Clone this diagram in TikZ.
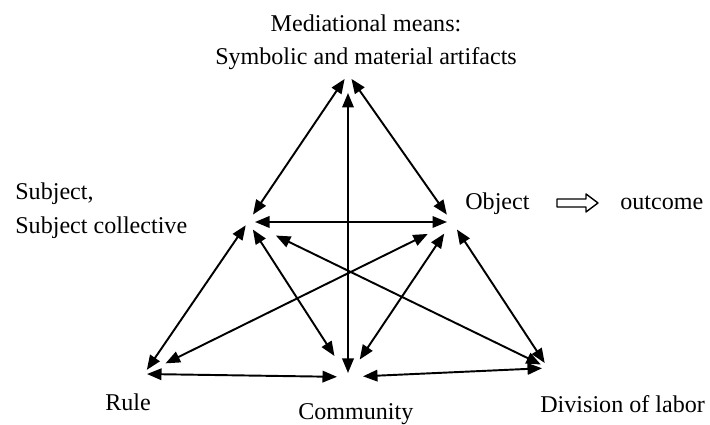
\documentclass[tikz,border=0pt]{standalone}
\usepackage{fontspec}
\setmainfont{Liberation Serif}
\usetikzlibrary{arrows.meta}

\tikzset{
  link/.style={<->, line width=1.1pt},
  lbl/.style={inner sep=0pt, anchor=base west, font=\fontsize{13.7}{16}\selectfont}
}

\begin{document}
\begin{tikzpicture}[line cap=round, line join=round, >={Triangle[length=0.29cm, width=0.23cm]}]
\useasboundingbox (0,0) rectangle (14.2,8.5);

\coordinate (M) at (6.96,7.02);
\coordinate (S) at (4.96,4.06);
\coordinate (O) at (9.04,4.06);
\coordinate (R) at (2.88,1.02);
\coordinate (C) at (6.96,0.96);
\coordinate (D) at (10.96,1.14);

% outer triangle
\draw[link, shorten <=0.12cm, shorten >=0.18cm] (M) -- (S);
\draw[link, shorten <=0.12cm, shorten >=0.18cm] (M) -- (O);
\draw[link, shorten <=0.10cm, shorten >=0.08cm] (R) -- (S);
\draw[link, shorten <=0.18cm, shorten >=0.12cm] (O) -- (D);
\draw[link, shorten <=0.06cm, shorten >=0.22cm] (R) -- (C);
\draw[link, shorten <=0.30cm, shorten >=0.12cm] (C) -- (D);

% inner links
\draw[link, shorten <=0.14cm, shorten >=0.10cm] (S) -- (O);
\draw[link, shorten <=0.08cm, shorten >=0.38cm] (C) -- (M);
\draw[link, shorten <=0.18cm, shorten >=0.50cm] (S) -- (C);
\draw[link, shorten <=0.28cm, shorten >=0.42cm] (O) -- (C);
\draw[link, shorten <=0.62cm, shorten >=0.16cm] (S) -- (D);
\draw[link, shorten <=0.54cm, shorten >=0.48cm] (O) -- (R);

% labels
\node[lbl, anchor=base] (means) at (7.32,7.86) {Mediational means:};
\node[lbl, anchor=base] (artifacts) at (7.32,7.20) {Symbolic and material artifacts};
\node[lbl] (subject) at (0.30,4.50) {Subject,};
\node[lbl] (collective) at (0.30,3.82) {Subject collective};
\node[lbl] (object) at (9.30,4.30) {Object};
\node[lbl] (outcome) at (12.40,4.30) {outcome};
\node[lbl] (rule) at (2.10,0.28) {Rule};
\node[lbl] (community) at (5.96,0.10) {Community};
\node[lbl] (division) at (10.80,0.24) {Division of labor};

% hollow arrow to outcome
\draw[line width=0.8pt] (11.14,4.36) -- (11.72,4.36) -- (11.72,4.26) -- (11.96,4.44)
  -- (11.72,4.62) -- (11.72,4.52) -- (11.14,4.52) -- cycle;

\end{tikzpicture}
\end{document}
